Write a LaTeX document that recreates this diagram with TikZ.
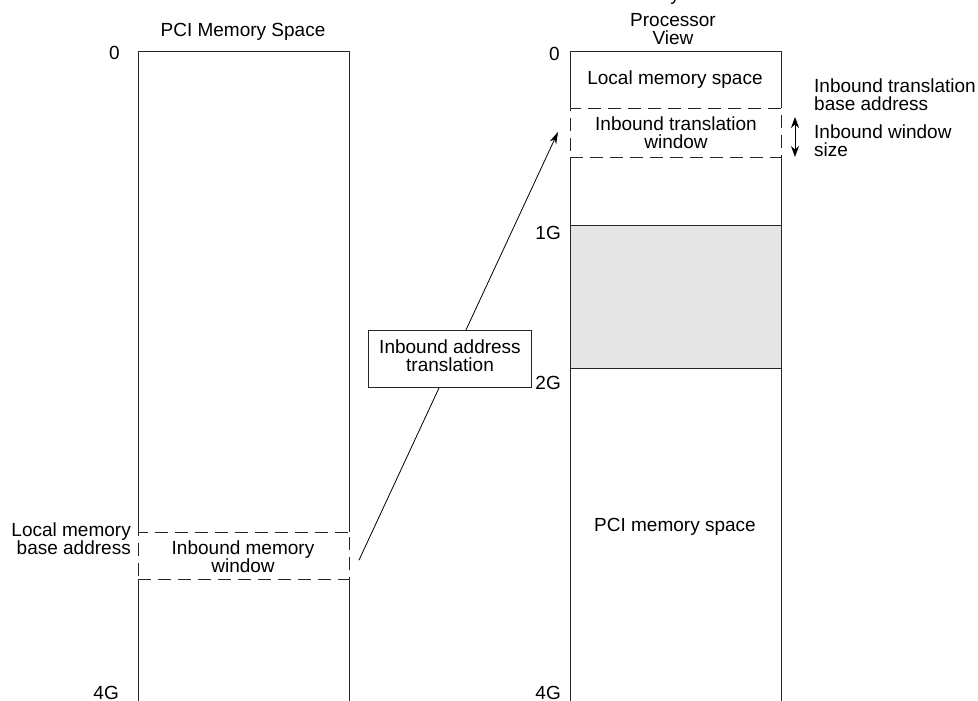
\documentclass[tikz,border=0pt]{standalone}
\usepackage{fontspec}
\setmainfont{Liberation Sans}
\usetikzlibrary{arrows.meta}
\begin{document}
\begin{tikzpicture}[x=1pt,y=-1pt,
  lbl/.style={font=\fontsize{19}{18}\selectfont, inner sep=0pt, align=center},
  edge/.style={draw=black!85, line width=0.9pt},
  win/.style={draw=black!85, line width=0.9pt, dash pattern=on 13pt off 7pt,
              inner sep=0pt, anchor=north west},
  conn/.style={draw=black, line width=0.8pt, -{Stealth[length=12pt,width=7pt]}},
  span/.style={draw=black, line width=0.9pt, {Stealth[length=11pt,width=8pt]}-{Stealth[length=11pt,width=8pt]}},
  xbox/.style={draw=black!85, fill=white, line width=0.9pt, minimum width=163pt,
               minimum height=57pt, inner sep=0pt}]

\useasboundingbox (0,0) rectangle (978,701);
\begin{scope}
\clip (0,0) rectangle (978,701);

% title fragment above the processor view
\node[lbl, anchor=base] (title) at (675,1) {y};

% ---------------- PCI memory space column ----------------
\node[lbl] (pcititle) at (243,32) {PCI Memory Space};
\draw[edge] (138,720) -- (138,579) (138,531.7) -- (138,51) -- (349,51) -- (349,531.7)
            (349,579) -- (349,720);
\node[win, minimum width=211pt, minimum height=47.3pt] (pciwin) at (138,531.7) {};
\node[lbl] (pciwintext) at (243,557) {Inbound memory\\window};
\node[lbl, anchor=east] (pci0) at (120,53) {0};
\node[lbl, anchor=east] (pci4g) at (119,692.5) {4G};
\node[lbl, anchor=east, align=right] (lmba) at (131,538.5) {Local memory\\base address};

% ---------------- processor view column ----------------
\node[lbl] (proctitle) at (673,29) {Processor\\View};
\fill[black!10] (570,225.3) rectangle (781,368.3);
\draw[edge] (570,720) -- (570,156.7) (570,108.3) -- (570,51) -- (781,51) -- (781,108.3)
            (781,156.7) -- (781,720);
\draw[edge] (570,225.3) -- (781,225.3) (570,368.3) -- (781,368.3);
\node[win, minimum width=211pt, minimum height=48.4pt] (xwin) at (570,108.3) {};
\node[lbl] (xwintext) at (676,133) {Inbound translation\\window};
\node[lbl] (localspace) at (675,80) {Local memory space};
\node[lbl] (pcispace) at (675,527) {PCI memory space};
\node[lbl, anchor=east] (p0) at (560,54) {0};
\node[lbl, anchor=east] (p1g) at (561,233) {1G};
\node[lbl, anchor=east] (p2g) at (561,383) {2G};
\node[lbl, anchor=east] (p4g) at (561,692.5) {4G};

% window size annotation
\coordinate (sztop) at (795,117);
\coordinate (szbot) at (795,157);
\draw[span] (sztop) -- (szbot);
\node[lbl, anchor=west, align=left] (tba) at (814,95) {Inbound translation\\base address};
\node[lbl, anchor=west, align=left] (iws) at (814,141) {Inbound window\\size};

% translation arrow and its label box
\draw[conn] ([xshift=9pt,yshift=-4.5pt]pciwin.east) -- ([xshift=-12pt,yshift=1pt]xwin.west);
\node[xbox, anchor=north west] (xlate) at (368.3,330) {};
\node[lbl] (xlatetext) at (450,355.5) {Inbound address\\translation};
\end{scope}
\end{tikzpicture}
\end{document}
